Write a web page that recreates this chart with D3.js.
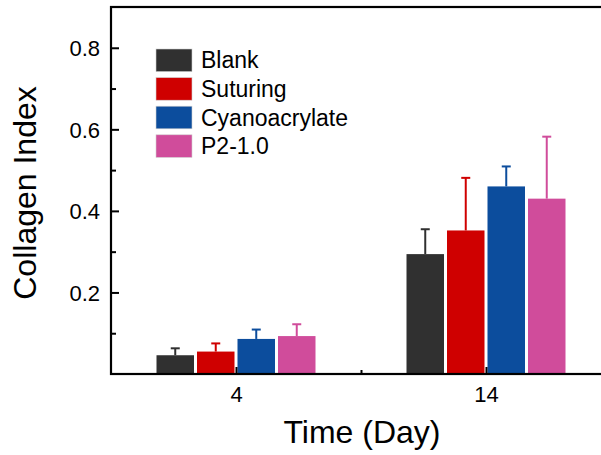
<!DOCTYPE html>
<html>
<head>
<meta charset="utf-8">
<script src="https://cdn.jsdelivr.net/npm/d3@7"></script>
<style>
  body { margin: 0; background: #ffffff; }
  svg { display: block; font-family: "Liberation Sans", Arial, sans-serif; }
</style>
</head>
<body>
<div id="chart"></div>
<script>
// data
let categories = ["4", "14"];
let seriesNames = ["Blank", "Suturing", "Cyanoacrylate", "P2-1.0"];
let seriesColors = ["#303030", "#cf0000", "#0c4d9d", "#d04c9b"];
let blankMean = [0.046, 0.294];
let suturingMean = [0.055, 0.352];
let cyanoMean = [0.086, 0.460];
let p2Mean = [0.093, 0.430];
let blankErr = [0.017, 0.061];
let suturingErr = [0.020, 0.129];
let cyanoErr = [0.023, 0.049];
let p2Err = [0.029, 0.152];
let yTickLabels = [0.2, 0.4, 0.6, 0.8];
let yMinorTicks = [0.1, 0.3, 0.5, 0.7];

let means = [blankMean, suturingMean, cyanoMean, p2Mean];
let errs = [blankErr, suturingErr, cyanoErr, p2Err];

//Options
let width = 601;
let height = 455;
let plotLeft = 111, plotRight = 611, plotTop = 7, plotBottom = 374;
let tick_font = "22px";

let svg = d3.select("#chart").append("svg")
    .attr("width", width)
    .attr("height", height);

// x is continuous so the frame can run past the window like the original
let x_scale = d3.scaleLinear().domain([0.5, 2.5]).range([plotLeft, plotRight]);
let y_scale = d3.scaleLinear().domain([0, 0.9]).range([plotBottom, plotTop]);

let barW = x_scale(1.15) - x_scale(1);
let gap = x_scale(1.012) - x_scale(1);

let rows = [];
seriesNames.forEach((s, i) => {
    categories.forEach((c, j) => {
        rows.push({s: s, i: i, j: j, v: means[i][j], e: errs[i][j]});
    });
});

let barX = d => x_scale(d.j + 1) + (d.i - 2) * (barW + gap) + gap / 2;

// error bars (upper only)
let errG = svg.append("g").attr("id", "errors");
errG.selectAll("line.stem").data(rows).enter().append("line")
    .attr("x1", d => barX(d) + barW / 2)
    .attr("x2", d => barX(d) + barW / 2)
    .attr("y1", d => y_scale(d.v))
    .attr("y2", d => y_scale(d.v + d.e))
    .style("stroke", d => seriesColors[d.i])
    .style("stroke-width", 2);
errG.selectAll("line.cap").data(rows).enter().append("line")
    .attr("x1", d => barX(d) + barW / 2 - 4.5)
    .attr("x2", d => barX(d) + barW / 2 + 4.5)
    .attr("y1", d => y_scale(d.v + d.e))
    .attr("y2", d => y_scale(d.v + d.e))
    .style("stroke", d => seriesColors[d.i])
    .style("stroke-width", 2);

// bars
svg.append("g").attr("id", "bars")
    .selectAll("rect").data(rows).enter().append("rect")
    .attr("x", barX)
    .attr("y", d => y_scale(d.v))
    .attr("width", barW)
    .attr("height", d => y_scale(0) - y_scale(d.v))
    .style("fill", d => seriesColors[d.i]);

// axes, ticks point inward
let y_ax = d3.axisRight(y_scale).tickValues(yTickLabels).tickSize(8).tickFormat(d3.format(".1f"));
let y_g = svg.append("g").attr("transform", `translate(${plotLeft},0)`).call(y_ax);
y_g.select(".domain").remove();
y_g.selectAll("line").style("stroke", "#000").style("stroke-width", 2);
y_g.selectAll("text")
    .attr("x", -11)
    .attr("dy", "0.36em")
    .style("text-anchor", "end")
    .style("font-size", tick_font)
    .style("fill", "#000");

let y_minor = d3.axisRight(y_scale).tickValues(yMinorTicks).tickSize(5).tickFormat("");
let ym_g = svg.append("g").attr("transform", `translate(${plotLeft},0)`).call(y_minor);
ym_g.select(".domain").remove();
ym_g.selectAll("line").style("stroke", "#000").style("stroke-width", 2);

let x_ax = d3.axisTop(x_scale).tickValues([1, 2]).tickSize(7).tickFormat((d, i) => categories[i]);
let x_g = svg.append("g").attr("transform", `translate(0,${plotBottom})`).call(x_ax);
x_g.select(".domain").remove();
x_g.selectAll("line").style("stroke", "#000").style("stroke-width", 2);
x_g.selectAll("text")
    .attr("y", 28)
    .attr("dy", 0)
    .style("font-size", tick_font)
    .style("fill", "#000");

let x_minor = d3.axisTop(x_scale).tickValues([1.5]).tickSize(4).tickFormat("");
let xm_g = svg.append("g").attr("transform", `translate(0,${plotBottom})`).call(x_minor);
xm_g.select(".domain").remove();
xm_g.selectAll("line").style("stroke", "#000").style("stroke-width", 2);

// frame
svg.append("rect")
    .attr("x", plotLeft)
    .attr("y", plotTop)
    .attr("width", plotRight - plotLeft)
    .attr("height", plotBottom - plotTop)
    .style("fill", "none")
    .style("stroke", "#000")
    .style("stroke-width", 2.2);

// axis titles
svg.append("text")
    .attr("x", 362)
    .attr("y", 443)
    .attr("text-anchor", "middle")
    .style("font-size", "32px")
    .text("Time (Day)");

svg.append("text")
    .attr("transform", "translate(36,193) rotate(-90)")
    .attr("text-anchor", "middle")
    .style("font-size", "32px")
    .text("Collagen Index");

// legend
let legend = svg.append("g").attr("id", "legend");
let lg = legend.selectAll("g").data(seriesNames).enter().append("g")
    .attr("transform", (d, i) => `translate(156,${60.3 + i * 28.6})`);
lg.append("rect")
    .attr("x", 0)
    .attr("y", -11.3)
    .attr("width", 36)
    .attr("height", 22.6)
    .style("fill", (d, i) => seriesColors[i])
    .style("stroke", "#cfcfcf")
    .style("stroke-width", 0.6);
lg.append("text")
    .attr("x", 45)
    .attr("y", 8)
    .style("font-size", "23px")
    .text(d => d);
</script>
</body>
</html>
